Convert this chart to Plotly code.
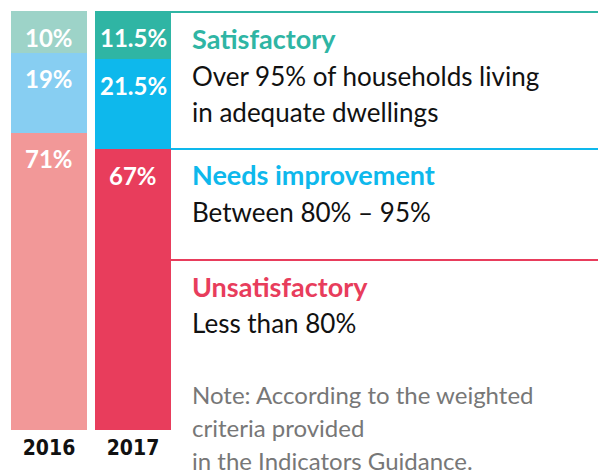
import plotly.graph_objects as go

years = ["2016", "2017"]
unsatisfactory = [71, 67]
needs_improvement = [19, 21.5]
satisfactory = [10, 11.5]

col_unsat = ["#f29898", "#e83d5c"]
col_needs = ["#87cef2", "#0eb8ec"]
col_sat = ["#9dd3c8", "#2fb5a4"]

TEAL = "#2fb5a4"
BLUE = "#0eb8ec"
RED = "#e83d5c"

W, H = 598, 471
ML, MR, MT, MB = 0, 0, 11, 41
PH = H - MT - MB


def xp(px):
    return px / W


def yp(py):
    return (H - MB - py) / PH


fig = go.Figure()
for name, vals, cols in [("Unsatisfactory", unsatisfactory, col_unsat),
                         ("Needs improvement", needs_improvement, col_needs),
                         ("Satisfactory", satisfactory, col_sat)]:
    fig.add_trace(go.Bar(x=years, y=vals, name=name, marker=dict(color=cols, line=dict(width=0)),
                         width=0.905, hoverinfo="skip"))

annotations = []
# percent labels near top of each segment
for i, yr in enumerate(years):
    tops = [unsatisfactory[i], unsatisfactory[i] + needs_improvement[i],
            unsatisfactory[i] + needs_improvement[i] + satisfactory[i]]
    vals = [unsatisfactory[i], needs_improvement[i], satisfactory[i]]
    for t, v in zip(tops, vals):
        annotations.append(dict(x=i, y=t, xref="x", yref="y", text=f"{v:g}%",
                                showarrow=False, yanchor="middle", yshift=-26,
                                font=dict(family="Lato", size=24, color="white", weight="bold")))

text_items = [
    ("Satisfactory", 49, TEAL, True, 27),
    ("Over 95% of households living", 86, "#111111", False, 26),
    ("in adequate dwellings", 122, "#111111", False, 26),
    ("Needs improvement", 185, BLUE, True, 27),
    ("Between 80% – 95%", 222, "#111111", False, 26),
    ("Unsatisfactory", 297, RED, True, 27),
    ("Less than 80%", 333, "#111111", False, 26),
    ("Note: According to the weighted", 404, "#777777", False, 24),
    ("criteria provided", 437, "#777777", False, 24),
    ("in the Indicators Guidance.", 470, "#777777", False, 24),
]
for txt, base, col, bold, size in text_items:
    annotations.append(dict(x=xp(190), y=yp(base - 0.4 * size), xref="paper", yref="paper", text=txt,
                            showarrow=False, xanchor="left", yanchor="middle",
                            font=dict(family="Lato", size=size, color=col,
                                      weight="bold" if bold else "normal")))

shapes = []
for py, col in [(12, TEAL), (149, BLUE), (260, RED)]:
    shapes.append(dict(type="line", xref="paper", yref="paper", x0=xp(171), x1=1,
                       y0=yp(py), y1=yp(py), line=dict(color=col, width=2)))

fig.update_layout(
    width=W, height=H,
    margin=dict(l=ML, r=MR, t=MT, b=MB, autoexpand=False),
    barmode="stack",
    showlegend=False,
    plot_bgcolor="white",
    paper_bgcolor="white",
    annotations=annotations,
    shapes=shapes,
    xaxis=dict(type="category", domain=[xp(7), xp(175)], range=[-0.5, 1.5],
               showgrid=False, zeroline=False, showline=False, ticks="",
               ticklabelstandoff=3,
               tickfont=dict(family="DejaVu Sans Condensed",
                             size=21, color="#111111", weight="bold")),
    yaxis=dict(range=[0, 100], showgrid=False, zeroline=False, showline=False,
               showticklabels=False, ticks=""),
)

fig.write_html("out.html", config={"displayModeBar": False},
               post_script="document.body.style.margin='0';document.body.style.overflow='hidden';")
